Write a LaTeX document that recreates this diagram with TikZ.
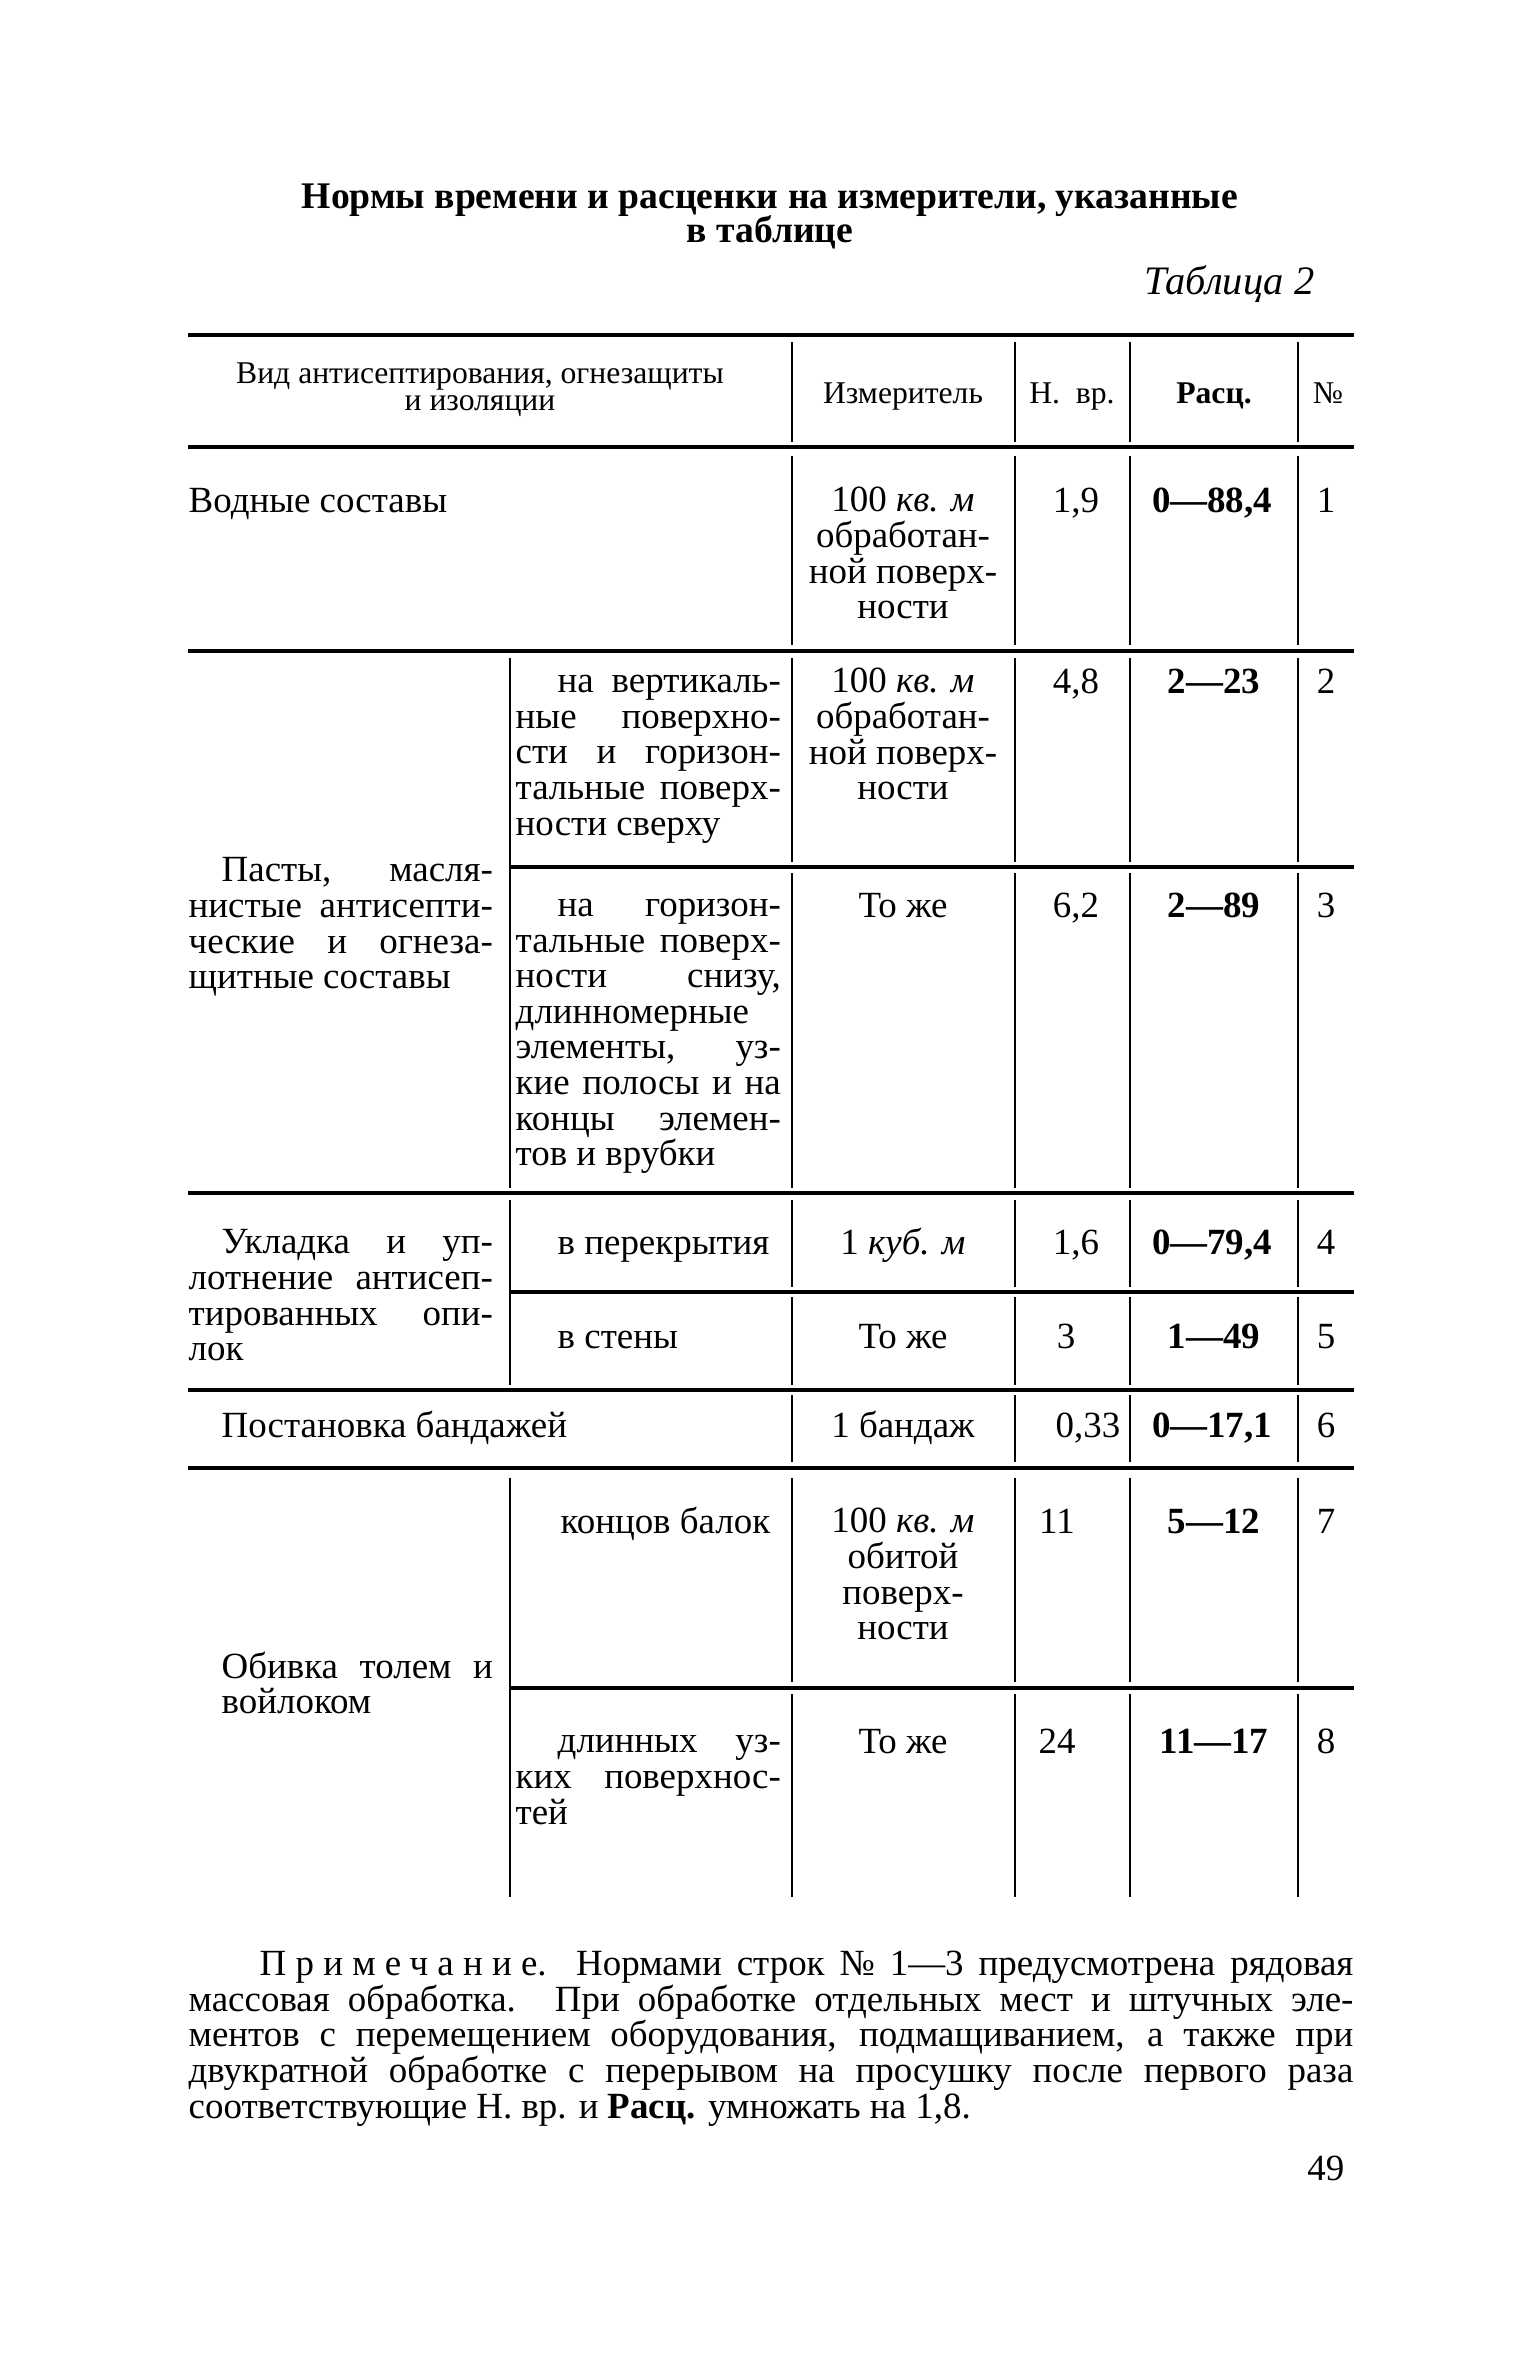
\documentclass[tikz,border=0pt]{standalone}
\usepackage{fontspec}
\setmainfont{Liberation Serif}
\newcommand\bodyf{\fontsize{10.5}{10.1}\selectfont}
\newcommand\headf{\fontsize{9}{7.4}\selectfont}
\newcommand\titf{\fontsize{10.7}{9.7}\selectfont\bfseries}
\newcommand\jl[2]{\makebox[#1][s]{#2}}
\tikzset{
  hrule/.style={line width=1.1pt},
  irule/.style={line width=0.9pt},
  vrule/.style={line width=0.6pt},
  txt/.style={inner sep=0pt, font=\bodyf, align=left, anchor=base west},
  ctr/.style={inner sep=0pt, font=\bodyf, align=center, anchor=base},
  rsc/.style={inner sep=0pt, font=\bodyf\bfseries, anchor=base},
}
\begin{document}
\begin{tikzpicture}[x=0.01cm, y=-0.01cm]
\useasboundingbox (0,0) rectangle (1536,2362);
\fill[white] (0,0) rectangle (1536,2362);
% title
\node[inner sep=0pt, font=\titf, anchor=base] (t1) at (770,208) {Нормы времени и расценки на измерители, указанные};
\node[inner sep=0pt, font=\titf, anchor=base] (t2) at (770,242) {в таблице};
\node[inner sep=0pt, font=\fontsize{11.5}{12}\selectfont\itshape, anchor=base east] (tab) at (1315,294) {Таблица 2};
% horizontal rules
\draw[hrule] (188,335) -- (1354,335);
\draw[hrule] (188,447) -- (1354,447);
\draw[hrule] (188,651) -- (1354,651);
\draw[irule] (510,867) -- (1354,867);
\draw[hrule] (188,1193) -- (1354,1193);
\draw[irule] (510,1292) -- (1354,1292);
\draw[hrule] (188,1390) -- (1354,1390);
\draw[hrule] (188,1468) -- (1354,1468);
\draw[irule] (510,1688) -- (1354,1688);
% vertical rules
\foreach \x in {792,1015,1130,1298} {
  \draw[vrule] (\x,342) -- (\x,442);
  \draw[vrule] (\x,456) -- (\x,645);
  \draw[vrule] (\x,658) -- (\x,862);
  \draw[vrule] (\x,873) -- (\x,1188);
  \draw[vrule] (\x,1200) -- (\x,1287);
  \draw[vrule] (\x,1297) -- (\x,1385);
  \draw[vrule] (\x,1395) -- (\x,1462);
  \draw[vrule] (\x,1478) -- (\x,1682);
  \draw[vrule] (\x,1694) -- (\x,1897);
}
\draw[vrule] (510,658) -- (510,1188);
\draw[vrule] (510,1200) -- (510,1385);
\draw[vrule] (510,1478) -- (510,1897);
% header (multi-line nodes: base = last line)
\node[inner sep=0pt, font=\headf, align=center, anchor=base] (h1) at (480,410) {Вид антисептирования, огнезащиты\\и изоляции};
\node[inner sep=0pt, font=\headf, anchor=base] (h2) at (903,403) {Измеритель};
\node[inner sep=0pt, font=\headf, anchor=base] (h3) at (1072,403) {Н.~~вр.};
\node[inner sep=0pt, font=\headf\bfseries, anchor=base] (h4) at (1214,403) {Расц.};
\node[inner sep=0pt, font=\headf, anchor=base] (h5) at (1328,403) {№};
% row 1
\node[txt] (r1a) at (188,512) {Водные составы};
\node[ctr] (r1m) at (903,618.5) {100 \textit{кв. м}\\обработан-\\ной поверх-\\ности};
\node[ctr] (r1n) at (1076,512) {1,9};
\node[rsc] (r1r) at (1212,512) {0—88,4};
\node[ctr] (r1k) at (1326,512) {1};
% rows 2-3
\node[txt] (r23a) at (188,988.5) {\hspace*{0.33cm}\jl{2.71cm}{Пасты, масля-}\\\jl{3.04cm}{нистые антисепти-}\\\jl{3.04cm}{ческие и огнеза-}\\щитные составы};
\node[txt] (r2b) at (515,835) {\hspace*{0.42cm}\jl{2.23cm}{на вертикаль-}\\\jl{2.65cm}{ные поверхно-}\\\jl{2.65cm}{сти и горизон-}\\\jl{2.65cm}{тальные поверх-}\\ности сверху};
\node[ctr] (r2m) at (903,799.5) {100 \textit{кв. м}\\обработан-\\ной поверх-\\ности};
\node[ctr] (r2n) at (1076,693) {4,8};
\node[rsc] (r2r) at (1214,693) {2—23};
\node[ctr] (r2k) at (1326,693) {2};
\node[txt] (r3b) at (515,1165.5) {\hspace*{0.42cm}\jl{2.23cm}{на горизон-}\\\jl{2.65cm}{тальные поверх-}\\\jl{2.65cm}{ности снизу,}\\длинномерные\\\jl{2.65cm}{элементы, уз-}\\\jl{2.65cm}{кие полосы и на}\\\jl{2.65cm}{концы элемен-}\\тов и врубки};
\node[ctr] (r3m) at (903,917) {То же};
\node[ctr] (r3n) at (1076,917) {6,2};
\node[rsc] (r3r) at (1214,917) {2—89};
\node[ctr] (r3k) at (1326,917) {3};
% rows 4-5
\node[txt] (r45a) at (188,1360.5) {\hspace*{0.33cm}\jl{2.71cm}{Укладка и уп-}\\\jl{3.04cm}{лотнение антисеп-}\\\jl{3.04cm}{тированных опи-}\\лок};
\node[txt] (r4b) at (557,1254) {в перекрытия};
\node[ctr] (r4m) at (903,1254) {1 \textit{куб. м}};
\node[ctr] (r4n) at (1076,1254) {1,6};
\node[rsc] (r4r) at (1212,1254) {0—79,4};
\node[ctr] (r4k) at (1326,1254) {4};
\node[txt] (r5b) at (557,1348) {в стены};
\node[ctr] (r5m) at (903,1348) {То же};
\node[ctr] (r5n) at (1066,1348) {3};
\node[rsc] (r5r) at (1214,1348) {1—49};
\node[ctr] (r5k) at (1326,1348) {5};
% row 6
\node[txt] (r6a) at (221,1437) {Постановка бандажей};
\node[ctr] (r6m) at (903,1437) {1 бандаж};
\node[ctr] (r6n) at (1088,1437) {0,33};
\node[rsc] (r6r) at (1212,1437) {0—17,1};
\node[ctr] (r6k) at (1326,1437) {6};
% rows 7-8
\node[txt] (r78a) at (221,1713.5) {\jl{2.71cm}{Обивка толем и}\\войлоком};
\node[txt] (r7b) at (560,1533) {концов балок};
\node[ctr] (r7m) at (903,1639.5) {100 \textit{кв. м}\\обитой\\поверх-\\ности};
\node[ctr] (r7n) at (1057,1533) {11};
\node[rsc] (r7r) at (1214,1533) {5—12};
\node[ctr] (r7k) at (1326,1533) {7};
\node[txt] (r8b) at (515,1824) {\hspace*{0.42cm}\jl{2.23cm}{длинных уз-}\\\jl{2.65cm}{ких поверхнос-}\\тей};
\node[ctr] (r8m) at (903,1753) {То же};
\node[ctr] (r8n) at (1057,1753) {24};
\node[rsc] (r8r) at (1214,1753) {11—17};
\node[ctr] (r8k) at (1326,1753) {8};
% note
\node[txt] (note) at (188,2118) {\hspace*{0.71cm}\jl{10.93cm}{{\addfontfeature{LetterSpace=25}Примечание}. Нормами строк № 1—3 предусмотрена рядовая}\\
\jl{11.64cm}{массовая обработка. При обработке отдельных мест и штучных эле-}\\
\jl{11.64cm}{ментов с перемещением оборудования, подмащиванием, а также при}\\
\jl{11.64cm}{двукратной обработке с перерывом на просушку после первого раза}\\
соответствующие Н. вр. и \textbf{Расц.} умножать на 1,8.};
\node[inner sep=0pt, font=\bodyf, anchor=base east] (pg) at (1345,2180) {49};
\end{tikzpicture}
\end{document}
